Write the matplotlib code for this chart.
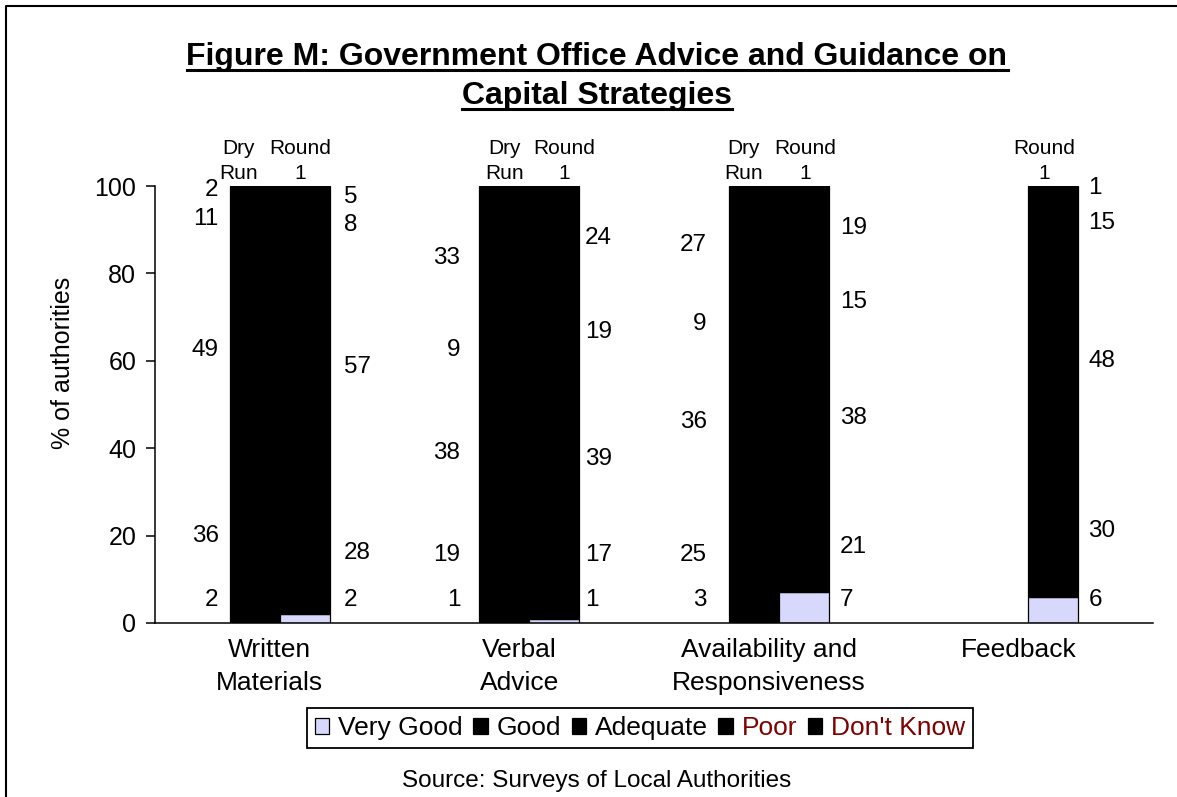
import matplotlib
matplotlib.use("Agg")
import matplotlib.pyplot as plt
from matplotlib.patches import Patch
from matplotlib.lines import Line2D

plt.rcParams['font.family'] = ['Liberation Sans', 'DejaVu Sans']

categories = ['Written\nMaterials', 'Verbal\nAdvice',
              'Availability and\nResponsiveness', 'Feedback']
ratings = ['Very Good', 'Good', 'Adequate', 'Poor', "Don't Know"]

# % of authorities per rating (bottom to top); None = not asked in the dry run
dry_run = [
    [2, 36, 49, 11, 2],
    [1, 19, 38, 9, 33],
    [3, 25, 36, 9, 27],
    None,
]
round_1 = [
    [2, 28, 57, 8, 5],
    [1, 17, 39, 19, 24],
    [7, 21, 38, 15, 19],
    [6, 30, 48, 15, 1],
]

LAVENDER = '#D8D8FC'
DARK_RED = '#800000'
round_colors = [LAVENDER, 'black', 'black', 'black', 'black']
dry_colors = ['black'] * 5
legend_text_colors = ['black', 'black', 'black', DARK_RED, DARK_RED]

W, H = 1177, 797
PX = 249.5  # pixels per category on the x axis

# hand-placed offsets (pixels from the pair centre) of labels and headings
dry_label_off = [-61, -69, -72, 0]
round_label_off = [64, 56, 61, 60]
dry_head_off = [-41, -25, -35, 0]
round_head_off = [20, 35, 26, 16]

fig = plt.figure(figsize=(W / 100, H / 100), dpi=100)
ax = fig.add_axes([155 / W, 1 - 623 / H, (1153 - 155) / W, (623 - 186) / H])
ax.set_xlim(-0.5, 3.5)
ax.set_ylim(0, 100)

bar_w = 0.2
label_floor = [5.3, 15.5, 0, 0, 0]


def draw_stack(x, values, colors, label_x, ha):
    bottom = 0
    for k, v in enumerate(values):
        ax.bar(x, v, bar_w, bottom=bottom, color=colors[k],
               edgecolor='black', linewidth=0.9)
        y = max(bottom + v / 2, label_floor[k])
        ax.text(label_x, y, str(v), ha=ha, va='center', fontsize=17.5,
                clip_on=False)
        bottom += v


for i in range(len(categories)):
    if dry_run[i] is not None:
        draw_stack(i - bar_w / 2, dry_run[i], dry_colors,
                   i + dry_label_off[i] / PX, 'right')
        ax.text(i + dry_head_off[i] / PX, 105.7, 'Dry\nRun', ha='center',
                va='center', fontsize=15, linespacing=1.35, clip_on=False)
    draw_stack(i + bar_w / 2, round_1[i], round_colors,
               i + round_label_off[i] / PX, 'left')
    ax.text(i + round_head_off[i] / PX, 105.7, 'Round\n1', ha='center',
            va='center', fontsize=15, linespacing=1.35, clip_on=False)

ax.set_xticks([i - 0.04 for i in range(len(categories))])
ax.set_xticklabels(categories, fontsize=19, linespacing=1.5)
ax.tick_params(axis='x', length=0, pad=10.5)
ax.set_yticks(range(0, 101, 20))
ax.tick_params(axis='y', labelsize=18, length=6.5, width=1.1, pad=7,
               direction='out')
for s in ['top', 'right']:
    ax.spines[s].set_visible(False)
for s in ['left', 'bottom']:
    ax.spines[s].set_linewidth(1.1)

fig.text(63 / W, 1 - 363 / H, '% of authorities', rotation=90,
         ha='center', va='center', fontsize=18)

# underlined two-line title
title_lines = ['Figure M: Government Office Advice and Guidance on',
               'Capital Strategies']
baselines = [65, 104]
renderer = fig.canvas.get_renderer()
for line, base in zip(title_lines, baselines):
    t = fig.text(597 / W, 1 - base / H, line, ha='center', va='baseline',
                 fontsize=23, fontweight='bold')
    bb = t.get_window_extent(renderer=renderer)
    uy = 1 - (base + 5) / H
    fig.add_artist(Line2D([bb.x0 / W, bb.x1 / W], [uy, uy], color='black',
                          linewidth=2.2, transform=fig.transFigure))

handles = [Patch(facecolor=c, edgecolor='black', linewidth=0.9)
           for c in round_colors]
leg = fig.legend(handles, ratings, loc='center',
                 bbox_to_anchor=(640 / W, 1 - 728 / H), ncol=5, fontsize=19,
                 handlelength=0.55, handleheight=0.55, handletextpad=0.33,
                 columnspacing=0.4, borderpad=0.3, fancybox=False,
                 framealpha=1, edgecolor='black')
leg.get_frame().set_linewidth(1.3)
for txt, c in zip(leg.get_texts(), legend_text_colors):
    txt.set_color(c)

fig.text(597 / W, 1 - 781 / H, 'Source: Surveys of Local Authorities',
         ha='center', va='center', fontsize=17.5)

# chart frame (left and top edges)
fig.add_artist(Line2D([6 / W, 6 / W, 1.0], [0.0, 1 - 6 / H, 1 - 6 / H],
                      color='black', linewidth=1.5,
                      transform=fig.transFigure))

fig.savefig('out.png', dpi=100)
